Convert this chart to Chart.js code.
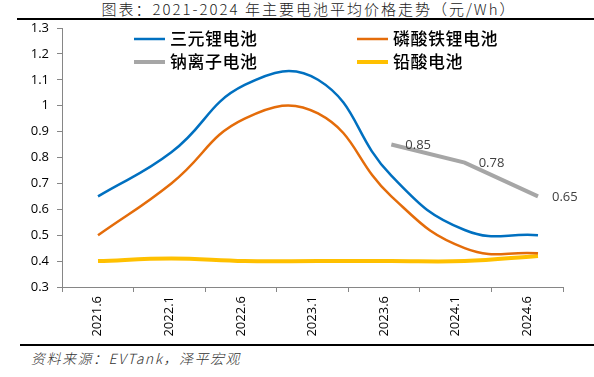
<!DOCTYPE html>
<html>
<head>
<meta charset="utf-8">
<script src="https://cdn.jsdelivr.net/npm/chart.js@4"></script>
<style>
    body { margin: 0; background: #fff; }
    #wrap { position: relative; width: 594px; height: 377px; overflow: hidden; }
    #title {
        position: absolute; left: 0; top: 0; width: 618px; text-align: center;
        font: 15px "Noto Sans CJK SC", sans-serif; letter-spacing: 2px; color: #222;
        line-height: 17px; font-weight: 300;
    }
    .rule { position: absolute; height: 2px; background: #000; right: 0; }
    #source {
        position: absolute; left: 31px; top: 348px;
        font: italic 14px "Noto Sans CJK SC", serif; letter-spacing: 1.5px; color: #333;
        font-weight: 300;
    }
    canvas { position: absolute; left: 0; top: 0; }
</style>
</head>
<body>
<div id="wrap">
    <div id="title">图表：2021-2024 年主要电池平均价格走势（元/Wh）</div>
    <div class="rule" style="left:17px; top:18px;"></div>
    <div class="rule" style="left:20px; top:344px;"></div>
    <div id="source">资料来源：EVTank，泽平宏观</div>
    <canvas id="batteryChart" width="594" height="377"></canvas>
</div>
<script>
// 数据
const periods = ["2021.6", "2022.1", "2022.6", "2023.1", "2023.6", "2024.1", "2024.6"];
const ternary = [0.65, 0.82, 1.08, 1.10, 0.73, 0.52, 0.50];      // 三元锂电池
const lfp = [0.50, 0.70, 0.95, 0.97, 0.65, 0.45, 0.43];          // 磷酸铁锂电池
const sodium = [null, null, null, null, 0.85, 0.78, 0.65];       // 钠离子电池
const leadAcid = [0.40, 0.41, 0.40, 0.40, 0.40, 0.40, 0.42];     // 铅酸电池
const yTicks = [0.3, 0.4, 0.5, 0.6, 0.7, 0.8, 0.9, 1, 1.1, 1.2, 1.3];

const toPoints = arr => arr.map((v, i) => ({ x: i, y: v }));

// 图例 (画在绘图区内)
const legendInPlot = {
    id: 'legendInPlot',
    afterDraw(chart) {
        const ctx = chart.ctx;
        const slots = [[134, 39], [357, 39], [134, 62], [357, 62]];
        ctx.save();
        ctx.font = '500 17px "Noto Sans CJK SC", sans-serif';
        ctx.letterSpacing = '0.5px';
        ctx.textBaseline = 'middle';
        chart.data.datasets.forEach((ds, i) => {
            const [x, y] = slots[i];
            ctx.strokeStyle = ds.borderColor;
            ctx.lineWidth = ds.borderWidth;
            ctx.beginPath();
            ctx.moveTo(x, y);
            ctx.lineTo(x + 31, y);
            ctx.stroke();
            ctx.fillStyle = '#000';
            ctx.fillText(ds.label, x + 36, y);
        });
        ctx.restore();
    }
};

// 钠离子电池的数值标签
const sodiumLabels = {
    id: 'sodiumLabels',
    afterDatasetsDraw(chart) {
        const ctx = chart.ctx;
        const meta = chart.getDatasetMeta(2);
        ctx.save();
        ctx.font = '13px "Open Sans", sans-serif';
        ctx.fillStyle = '#404040';
        ctx.textBaseline = 'middle';
        meta.data.forEach((pt, i) => {
            if (sodium[i] === null) return;
            ctx.fillText(sodium[i].toFixed(2), pt.x + 14, pt.y + 1);
        });
        ctx.restore();
    }
};

const ctx = document.getElementById('batteryChart').getContext('2d');
new Chart(ctx, {
    type: 'line',
    data: {
        labels: periods,
        datasets: [
            { label: '三元锂电池', data: toPoints(ternary), borderColor: '#0070C0', borderWidth: 2.5, tension: 0.45 },
            { label: '磷酸铁锂电池', data: toPoints(lfp), borderColor: '#E46C0A', borderWidth: 2.5, tension: 0.45 },
            { label: '钠离子电池', data: toPoints(sodium), borderColor: '#A6A6A6', borderWidth: 4, tension: 0 },
            { label: '铅酸电池', data: toPoints(leadAcid), borderColor: '#FFC000', borderWidth: 4, tension: 0.4 }
        ].map(ds => ({ ...ds, xAxisID: 'xd', pointRadius: 0, pointHoverRadius: 0, fill: false, borderCapStyle: 'butt' }))
    },
    options: {
        responsive: false,
        animation: false,
        layout: { padding: { left: 0, top: 28, right: 31, bottom: 0 } },
        plugins: {
            legend: { display: false },
            tooltip: { enabled: false }
        },
        scales: {
            x: {
                type: 'category',
                offset: true,
                afterFit: s => { s.height = 90; },
                grid: { offset: true, drawOnChartArea: false, drawTicks: true, tickLength: 5, color: '#868686' },
                border: { display: true, color: '#868686', width: 1 },
                ticks: {
                    minRotation: 90, maxRotation: 90, padding: 4,
                    color: '#000', font: { family: 'Open Sans', size: 13 }
                }
            },
            xd: {
                type: 'linear',
                display: false,
                min: -0.491,
                max: 6.341
            },
            y: {
                min: 0.3,
                max: 1.3,
                afterFit: s => { s.width = 62; },
                afterBuildTicks: s => { s.ticks = yTicks.map(v => ({ value: v })); },
                grid: { drawOnChartArea: false, drawTicks: true, tickLength: 5, color: '#868686' },
                border: { display: true, color: '#868686', width: 1 },
                ticks: {
                    padding: 8, color: '#000',
                    font: { family: 'Open Sans', size: 13 },
                    callback: v => String(+v.toFixed(1))
                }
            }
        }
    },
    plugins: [legendInPlot, sodiumLabels]
});
</script>
</body>
</html>
